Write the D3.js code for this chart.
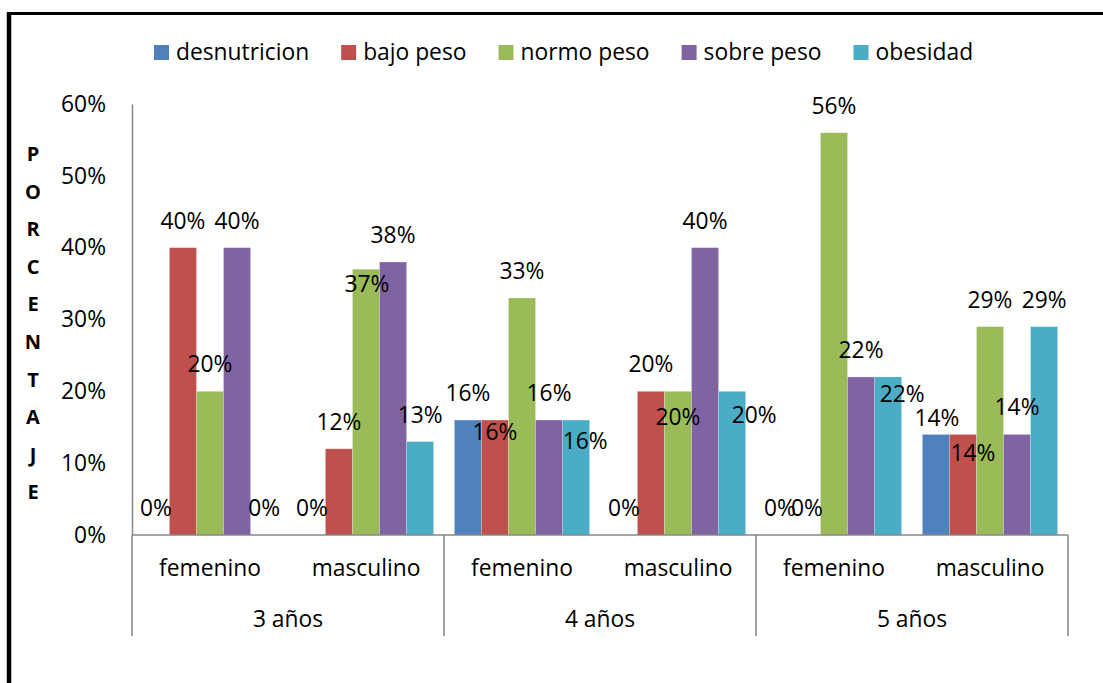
<!DOCTYPE html>
<html>
<head>
<meta charset="utf-8">
<script src="https://cdn.jsdelivr.net/npm/d3@7"></script>
<style>
  body { margin: 0; background: #fff; }
  svg { display: block; font-family: "Open Sans", sans-serif; }
</style>
</head>
<body>
<div id="svgContainer"></div>
<script>
// data (percent)
var ages = ["3 años", "4 años", "5 años"];
var sexes = ["femenino", "masculino"];
var series = ["desnutricion", "bajo peso", "normo peso", "sobre peso", "obesidad"];
var colors = ["#4F81BD", "#C0504D", "#9BBB59", "#8064A2", "#4BACC6"];
var yTicks = [0, 10, 20, 30, 40, 50, 60];

var desnutricion = [0, 0, 16, 0, 0, 14];
var bajoPeso     = [40, 12, 16, 20, 0, 14];
var normoPeso    = [20, 37, 33, 20, 56, 29];
var sobrePeso    = [40, 38, 16, 40, 22, 14];
var obesidad     = [0, 13, 16, 20, 22, 29];
var seriesValues = [desnutricion, bajoPeso, normoPeso, sobrePeso, obesidad];

// labels that were dragged around by hand in the original (category-series: [dx, dy])
var labelMoves = {
  "1-2": [1, 42], "2-1": [0, 39], "2-4": [9, 48], "3-2": [0, 53],
  "3-4": [22, 51], "4-4": [14, 44], "5-0": [1, 11], "5-1": [10, 46]
};

var width = 1103, height = 683;

var svg = d3.select("#svgContainer").append("svg")
    .attr("width", width)
    .attr("height", height);

// frame
svg.append("line").attr("x1", 9).attr("x2", 9).attr("y1", 12).attr("y2", height)
    .attr("stroke", "#000").attr("stroke-width", 4.5);
svg.append("line").attr("x1", 7).attr("x2", width).attr("y1", 13.4).attr("y2", 13.4)
    .attr("stroke", "#000").attr("stroke-width", 3);

var cats = [];
ages.forEach(a => sexes.forEach(s => cats.push(a + "|" + s)));

var x0 = d3.scaleBand().domain(cats).range([132, 1068]).paddingInner(0).paddingOuter(0);
var x1 = d3.scaleBand().domain(series).range([0, x0.bandwidth()]).paddingInner(0).paddingOuter(0.384);
var xg = d3.scaleBand().domain(ages).range([132, 1068]);
var y = d3.scaleLinear().domain([0, 60]).range([535, 104]);

var axisColor = "#868686";
var fs = 22.8;

// y axis
var yAxis = svg.append("g")
    .attr("transform", "translate(132,0)")
    .call(d3.axisLeft(y).tickValues(yTicks).tickSize(0).tickPadding(26).tickFormat(d => d + "%"));
yAxis.select(".domain").attr("stroke", axisColor).attr("stroke-width", 1.5);
yAxis.selectAll("text").attr("font-size", fs).attr("font-family", "Open Sans").attr("fill", "#000");

// y title, stacked letters
var title = "PORCENTAJE".split("");
svg.append("g").selectAll("text")
    .data(title)
    .enter().append("text")
    .attr("x", 33)
    .attr("y", (d, i) => 154 + i * 37.6)
    .attr("dy", "0.35em")
    .attr("text-anchor", "middle")
    .attr("font-size", 20)
    .attr("font-weight", "bold")
    .text(d => d);

// bars
var data = [];
cats.forEach((c, ci) => {
  series.forEach((s, si) => {
    data.push({ cat: c, ci: ci, s: s, si: si, v: seriesValues[si][ci] });
  });
});

svg.append("g").selectAll("rect")
    .data(data.filter(d => d.v > 0))
    .enter().append("rect")
    .attr("x", d => x0(d.cat) + x1(d.s))
    .attr("y", d => y(d.v))
    .attr("width", x1.bandwidth())
    .attr("height", d => y(0) - y(d.v))
    .attr("fill", d => colors[d.si])
    .attr("stroke", "#fff")
    .attr("stroke-opacity", 0.35)
    .attr("stroke-width", 0.6);

// x axis line
svg.append("line")
    .attr("x1", 132).attr("x2", 1068).attr("y1", y(0)).attr("y2", y(0))
    .attr("stroke", axisColor).attr("stroke-width", 1.5);

// group separators
var seps = ages.map(a => xg(a)).concat([xg.range()[1]]);
svg.append("g").selectAll("line")
    .data(seps)
    .enter().append("line")
    .attr("x1", d => d).attr("x2", d => d)
    .attr("y1", y(0)).attr("y2", 636)
    .attr("stroke", axisColor).attr("stroke-width", 1.5);

// category labels
svg.append("g").selectAll("text")
    .data(cats)
    .enter().append("text")
    .attr("x", d => x0(d) + x0.bandwidth() / 2)
    .attr("y", 568)
    .attr("dy", "0.35em")
    .attr("text-anchor", "middle")
    .attr("font-size", fs)
    .text(d => d.split("|")[1]);

svg.append("g").selectAll("text")
    .data(ages)
    .enter().append("text")
    .attr("x", d => xg(d) + xg.bandwidth() / 2)
    .attr("y", 619)
    .attr("dy", "0.35em")
    .attr("text-anchor", "middle")
    .attr("font-size", fs)
    .text(d => d);

// data labels
svg.append("g").selectAll("text")
    .data(data)
    .enter().append("text")
    .attr("x", d => {
      var m = labelMoves[d.ci + "-" + d.si] || [0, 0];
      return x0(d.cat) + x1(d.s) + x1.bandwidth() / 2 + m[0];
    })
    .attr("y", d => {
      var m = labelMoves[d.ci + "-" + d.si] || [0, 0];
      return y(d.v) - 27 + m[1];
    })
    .attr("dy", "0.35em")
    .attr("text-anchor", "middle")
    .attr("font-size", fs)
    .text(d => d.v + "%");

// legend
var legend = svg.append("g");
var lx = 154;
series.forEach((s, i) => {
  legend.append("rect")
      .attr("x", lx).attr("y", 45)
      .attr("width", 15).attr("height", 15)
      .attr("fill", colors[i]);
  var t = legend.append("text")
      .attr("x", lx + 22).attr("y", 52)
      .attr("dy", "0.35em")
      .attr("font-size", fs)
      .text(s);
  lx += 22 + t.node().getComputedTextLength() + 32;
});
</script>
</body>
</html>
